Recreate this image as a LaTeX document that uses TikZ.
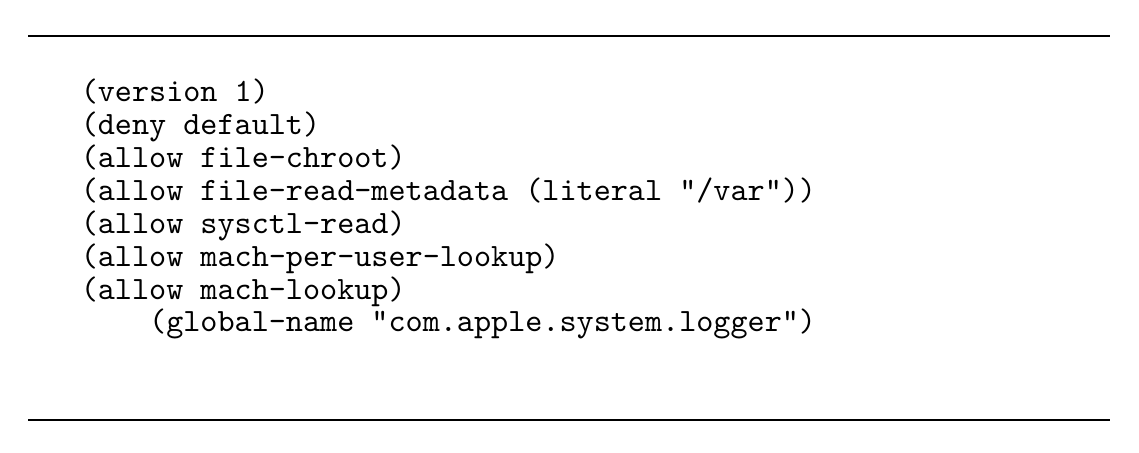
\documentclass[tikz,border=0pt]{standalone}
\begin{document}
\begin{tikzpicture}[x=1pt,y=-1pt,
  code/.style={anchor=base west,inner sep=0pt,font=\ttfamily\fontsize{10}{10}\selectfont},
  rule/.style={line width=0.6pt}]
\useasboundingbox (0,0) rectangle (349.7,138.8);
\coordinate (t1) at (8.6,11.1); \coordinate (t2) at (340.8,11.1);
\coordinate (b1) at (8.6,129.0); \coordinate (b2) at (340.8,129.0);
\draw[rule] (t1) -- (t2);
\draw[rule] (b1) -- (b2);
\node[code] (l1) at (24.6,31.2) {(version 1)};
\node[code] (l2) at (24.6,41.3) {(deny default)};
\node[code] (l3) at (24.6,51.4) {(allow file-chroot)};
\node[code] (l4) at (24.6,61.5) {(allow file-read-metadata (literal "/var"))};
\node[code] (l5) at (24.6,71.6) {(allow sysctl-read)};
\node[code] (l6) at (24.6,81.7) {(allow mach-per-user-lookup)};
\node[code] (l7) at (24.6,91.8) {(allow mach-lookup)};
\node[code] (l8) at (45.6,101.9) {(global-name "com.apple.system.logger")};
\end{tikzpicture}
\end{document}
